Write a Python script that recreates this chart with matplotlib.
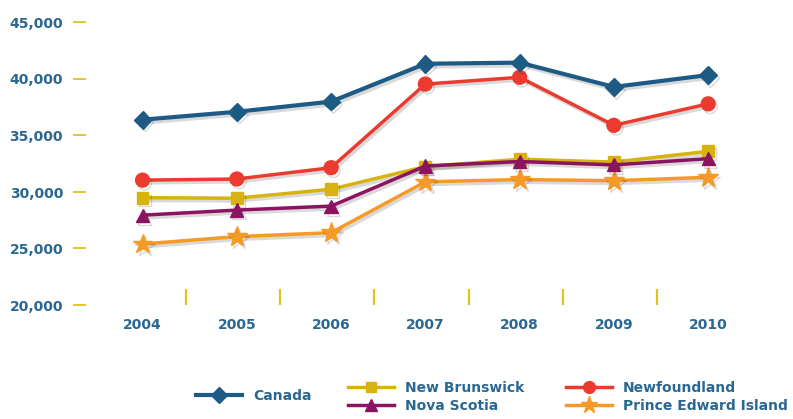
import matplotlib
matplotlib.use("Agg")
import matplotlib.pyplot as plt
from matplotlib.lines import Line2D
import matplotlib.patheffects as pe

years = [2004, 2005, 2006, 2007, 2008, 2009, 2010]
canada = [36400, 37100, 38000, 41350, 41450, 39300, 40350]
new_brunswick = [29500, 29450, 30250, 32250, 32900, 32650, 33600]
newfoundland = [31050, 31150, 32150, 39550, 40150, 35900, 37800]
nova_scotia = [27950, 28400, 28750, 32300, 32700, 32400, 32950]
pei = [25400, 26050, 26400, 30900, 31100, 31000, 31300]
y_ticks = [20000, 25000, 30000, 35000, 40000, 45000]
y_labels = ["20,000", "25,000", "30,000", "35,000", "40,000", "45,000"]

C_CAN = "#1d5b84"
C_NB = "#d8b30f"
C_NF = "#ec3b2e"
C_NS = "#8c1262"
C_PEI = "#f59a26"
C_TXT = "#2a6891"
C_TICK = "#e2c21a"

plt.rcParams['font.family'] = ['DejaVu Sans']

W, H = 793, 419
fig = plt.figure(figsize=(W / 100, H / 100), dpi=100)
left, right, top, bottom = 86, 760, 22.5, 305
ax = fig.add_axes([left / W, (H - bottom) / H, (right - left) / W, (bottom - top) / H])

shadow = [pe.SimpleLineShadow(offset=(1.5, -2), alpha=0.15, shadow_color="black"), pe.Normal()]

series = [
    ("Canada", canada, C_CAN, "D", 9, 3.0, 10),
    ("Newfoundland", newfoundland, C_NF, "o", 10, 2.5, 9),
    ("New Brunswick", new_brunswick, C_NB, "s", 8.5, 2.5, 7),
    ("Nova Scotia", nova_scotia, C_NS, "^", 9.5, 2.5, 8),
    ("Prince Edward Island", pei, C_PEI, "*", 15, 2.5, 6),
]
handles = {}
for name, vals, col, mk, ms, lw, z in series:
    ax.plot(years, vals, color=col, marker=mk, markersize=ms, linewidth=lw,
            markeredgecolor=col, clip_on=False, zorder=z, path_effects=shadow)
    handles[name] = Line2D([], [], color=col, marker=mk, markersize=ms * 0.85,
                           linewidth=lw, markeredgecolor=col)

ax.set_xlim(2003.4, 2010.55)
ax.set_ylim(20000, 45000)
for s in ax.spines.values():
    s.set_visible(False)

ax.set_yticks(y_ticks)
ax.set_yticklabels(y_labels)
ax.tick_params(axis='y', length=9.5, width=1.3, color=C_TICK, direction='out', pad=7,
               labelsize=10, labelcolor=C_TXT)
ax.set_xticks(years)
ax.set_xticklabels([str(y) for y in years])
ax.tick_params(axis='x', which='major', length=0, pad=9, labelsize=10, labelcolor=C_TXT)
ax.set_xticks([y + 0.46 for y in years[:-1]], minor=True)
ax.tick_params(axis='x', which='minor', length=11.5, width=1.6, color=C_TICK, direction='in')
for lbl in ax.get_xticklabels() + ax.get_yticklabels():
    lbl.set_fontweight('bold')

leg_kw = dict(frameon=False, handlelength=3.3, handletextpad=0.8, labelspacing=0.3,
              prop={'weight': 'bold', 'size': 10}, labelcolor=C_TXT, borderaxespad=0,
              borderpad=0)
fig.legend([handles["Canada"]], ["Canada"], loc='center left',
           bbox_to_anchor=(196 / W, (H - 396) / H), **leg_kw)
fig.legend([handles["New Brunswick"], handles["Nova Scotia"]], ["New Brunswick", "Nova Scotia"],
           loc='center left', bbox_to_anchor=(348 / W, (H - 397) / H), **leg_kw)
fig.legend([handles["Newfoundland"], handles["Prince Edward Island"]],
           ["Newfoundland", "Prince Edward Island"],
           loc='center left', bbox_to_anchor=(566 / W, (H - 397) / H), **leg_kw)

fig.savefig("out.png", dpi=100)
